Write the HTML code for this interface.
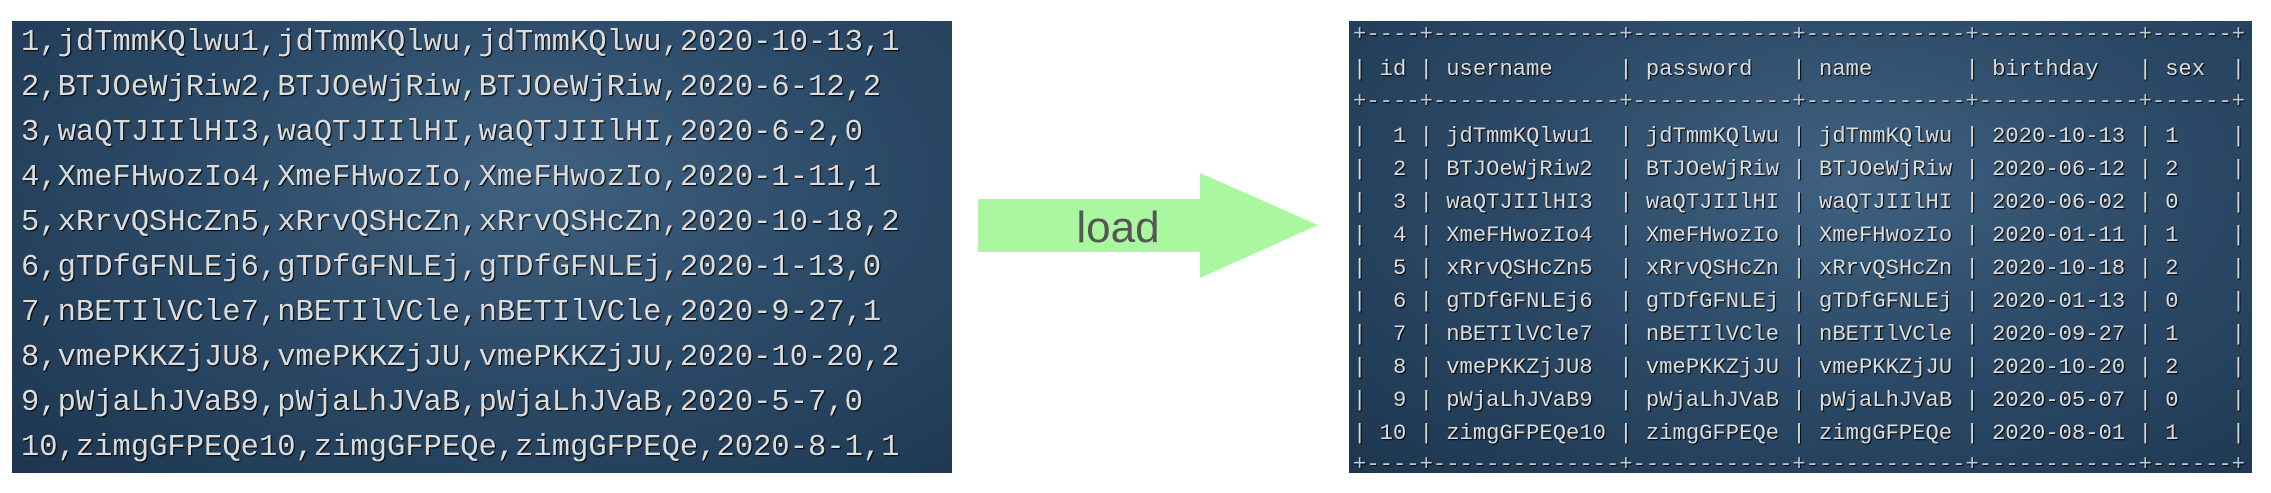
<!DOCTYPE html>
<html><head><meta charset="utf-8"><style>
html,body{margin:0;padding:0;background:#fff;width:2271px;height:493px;overflow:hidden;position:relative}
.panel{position:absolute;background:radial-gradient(ellipse at 55% 35%,#3f6180 0%,#2c4b68 45%,#1d3650 100%)}
.t{position:absolute;white-space:pre;font-family:"Liberation Mono",monospace;color:#dcdcdc;text-shadow:1px 1px 1px #000}
.l{font-size:30.5px;line-height:45px;left:21px}
.r{font-size:22.2px;line-height:30px;left:1353px}
.d{color:#c0c8d0}
</style></head><body>
<div class="panel" style="left:12px;top:21px;width:940px;height:452px"></div>
<div class="panel" style="left:1349px;top:21px;width:903px;height:452px"></div>

<div class="t l" style="top:21px">1,jdTmmKQlwu1,jdTmmKQlwu,jdTmmKQlwu,2020-10-13,1</div>
<div class="t l" style="top:66px">2,BTJOeWjRiw2,BTJOeWjRiw,BTJOeWjRiw,2020-6-12,2</div>
<div class="t l" style="top:111px">3,waQTJIIlHI3,waQTJIIlHI,waQTJIIlHI,2020-6-2,0</div>
<div class="t l" style="top:156px">4,XmeFHwozIo4,XmeFHwozIo,XmeFHwozIo,2020-1-11,1</div>
<div class="t l" style="top:201px">5,xRrvQSHcZn5,xRrvQSHcZn,xRrvQSHcZn,2020-10-18,2</div>
<div class="t l" style="top:246px">6,gTDfGFNLEj6,gTDfGFNLEj,gTDfGFNLEj,2020-1-13,0</div>
<div class="t l" style="top:291px">7,nBETIlVCle7,nBETIlVCle,nBETIlVCle,2020-9-27,1</div>
<div class="t l" style="top:336px">8,vmePKKZjJU8,vmePKKZjJU,vmePKKZjJU,2020-10-20,2</div>
<div class="t l" style="top:381px">9,pWjaLhJVaB9,pWjaLhJVaB,pWjaLhJVaB,2020-5-7,0</div>
<div class="t l" style="top:426px">10,zimgGFPEQe10,zimgGFPEQe,zimgGFPEQe,2020-8-1,1</div>

<svg style="position:absolute;left:0;top:0" width="2271" height="493">
<polygon points="978,199 1200,199 1200,173 1318,225 1200,278 1200,252 978,252" fill="#a9f8a0"/>
<text x="1118" y="242" text-anchor="middle" font-family="Liberation Sans, sans-serif" font-size="44" fill="#555">load</text>
</svg>

<div class="t r d" style="top:20px">+----+--------------+------------+------------+------------+------+</div>
<div class="t r" style="top:55px">| id | username     | password   | name       | birthday   | sex  |</div>
<div class="t r d" style="top:87px">+----+--------------+------------+------------+------------+------+</div>
<div class="t r" style="top:122px">|  1 | jdTmmKQlwu1  | jdTmmKQlwu | jdTmmKQlwu | 2020-10-13 | 1    |</div>
<div class="t r" style="top:155px">|  2 | BTJOeWjRiw2  | BTJOeWjRiw | BTJOeWjRiw | 2020-06-12 | 2    |</div>
<div class="t r" style="top:188px">|  3 | waQTJIIlHI3  | waQTJIIlHI | waQTJIIlHI | 2020-06-02 | 0    |</div>
<div class="t r" style="top:221px">|  4 | XmeFHwozIo4  | XmeFHwozIo | XmeFHwozIo | 2020-01-11 | 1    |</div>
<div class="t r" style="top:254px">|  5 | xRrvQSHcZn5  | xRrvQSHcZn | xRrvQSHcZn | 2020-10-18 | 2    |</div>
<div class="t r" style="top:287px">|  6 | gTDfGFNLEj6  | gTDfGFNLEj | gTDfGFNLEj | 2020-01-13 | 0    |</div>
<div class="t r" style="top:320px">|  7 | nBETIlVCle7  | nBETIlVCle | nBETIlVCle | 2020-09-27 | 1    |</div>
<div class="t r" style="top:353px">|  8 | vmePKKZjJU8  | vmePKKZjJU | vmePKKZjJU | 2020-10-20 | 2    |</div>
<div class="t r" style="top:386px">|  9 | pWjaLhJVaB9  | pWjaLhJVaB | pWjaLhJVaB | 2020-05-07 | 0    |</div>
<div class="t r" style="top:419px">| 10 | zimgGFPEQe10 | zimgGFPEQe | zimgGFPEQe | 2020-08-01 | 1    |</div>
<div class="t r d" style="top:450px">+----+--------------+------------+------------+------------+------+</div>
</body></html>
